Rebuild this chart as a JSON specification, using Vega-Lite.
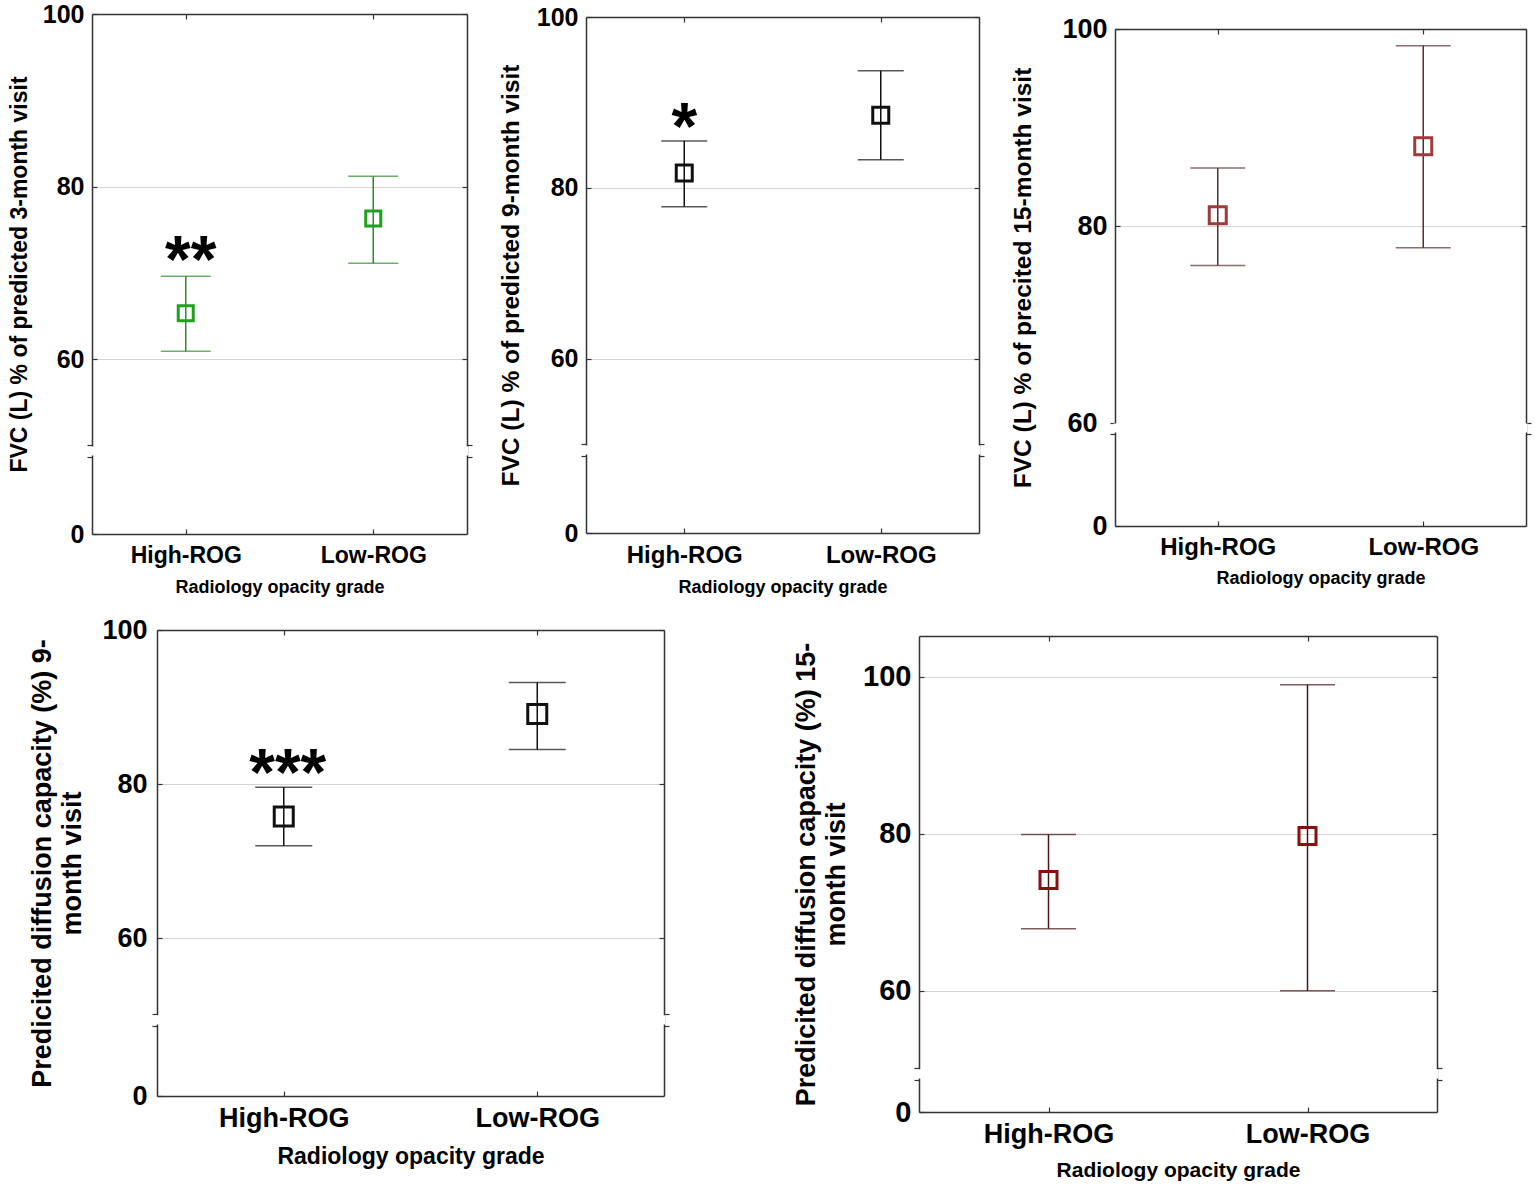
{
  "$schema": "https://vega.github.io/schema/vega-lite/v6.json",
  "padding": {"left": 8, "top": 2, "right": 5, "bottom": 5},
  "columns": 1,
  "align": "none",
  "spacing": 20,
  "config": {
    "view": {"stroke": null},
    "font": "Liberation Sans",
    "axis": {
      "labelFont": "Liberation Sans",
      "labelFontWeight": "bold",
      "labelColor": "#000000",
      "titleFont": "Liberation Sans",
      "titleFontWeight": "bold",
      "titleColor": "#000000",
      "titleLineHeight": 30,
      "domainColor": "#333333",
      "domainWidth": 1.5,
      "tickColor": "#333333",
      "tickWidth": 1.2,
      "gridColor": "#d4d4d4",
      "gridWidth": 1
    }
  },
  "concat": [
    {
      "columns": 3,
      "align": "none",
      "spacing": 25,
      "concat": [
        {
          "width": 375,
          "height": 520,
          "data": {"values": [
            {"grp": "High-ROG", "mean": 65.3, "lo": 60.9, "hi": 69.6, "star": "**"},
            {"grp": "Low-ROG", "mean": 76.3, "lo": 71.1, "hi": 81.2, "star": ""}
          ]},
          "resolve": {"axis": {"x": "independent", "y": "independent"}},
          "layer": [
            {
              "mark": {"type": "rule", "color": "#2f8a2f", "strokeWidth": 1.5},
              "encoding": {
                "x": {"field": "grp", "type": "nominal", "sort": null, "scale": {"type": "point", "padding": 0.5},
                  "axis": {"orient": "bottom", "title": "Radiology opacity grade", "labelAngle": 0, "labelFontSize": 23, "titleFontSize": 18, "tickSize": -5, "labelPadding": 15, "titlePadding": 11}},
                "y": {"field": "lo", "type": "quantitative", "scale": {"domain": [0, 49, 100], "range": [520, 440, 0], "nice": false, "zero": false},
                  "axis": {"orient": "left", "title": "FVC (L) % of predicted 3-month visit", "values": [0, 47.2, 50.05, 60, 80, 100],
                    "labelExpr": "datum.value == 0 || datum.value >= 60 ? datum.label : ''", "labelFontSize": 25, "titleFontSize": 23,
                    "grid": true, "gridColor": {"condition": {"test": "datum.value >= 60", "value": "#d4d4d4"}, "value": "transparent"},
                    "tickSize": {"condition": {"test": "indexof([47.2, 50.05], datum.value) >= 0", "value": 5}, "value": -5},
                    "labelPadding": 13, "titlePadding": 11}},
                "y2": {"field": "hi"}
              }
            },
            {
              "mark": {"type": "tick", "orient": "horizontal", "color": "#2f8a2f", "size": 50, "thickness": 1.5},
              "encoding": {"x": {"field": "grp", "type": "nominal", "sort": null, "axis": null}, "y": {"field": "lo", "type": "quantitative", "axis": null}}
            },
            {
              "mark": {"type": "tick", "orient": "horizontal", "color": "#2f8a2f", "size": 50, "thickness": 1.5},
              "encoding": {"x": {"field": "grp", "type": "nominal", "sort": null, "axis": null}, "y": {"field": "hi", "type": "quantitative", "axis": null}}
            },
            {
              "mark": {"type": "point", "shape": "square", "filled": false, "color": "#1fa01f", "strokeWidth": 3, "size": 225, "opacity": 1},
              "encoding": {"x": {"field": "grp", "type": "nominal", "sort": null, "axis": null}, "y": {"field": "mean", "type": "quantitative", "axis": null}}
            },
            {
              "mark": {"type": "text", "fontSize": 66, "fontWeight": "bold", "baseline": "alphabetic", "dy": 6, "dx": 5, "color": "#000000"},
              "encoding": {"x": {"field": "grp", "type": "nominal", "sort": null, "axis": null}, "y": {"field": "hi", "type": "quantitative", "axis": null}, "text": {"field": "star"}}
            },
            {
              "data": {"values": [{"b0": 49, "b1": 49.7}]},
              "mark": {"type": "rect", "color": "white", "stroke": "white", "strokeWidth": 3},
              "encoding": {"y": {"field": "b0", "type": "quantitative", "axis": null}, "y2": {"field": "b1"}}
            },
            {
              "mark": {"type": "point", "opacity": 0},
              "encoding": {
                "x": {"field": "grp", "type": "nominal", "sort": null, "axis": {"orient": "top", "labels": false, "title": null, "tickSize": -5}},
                "y": {"field": "mean", "type": "quantitative", "axis": {"orient": "right", "labels": false, "title": null, "grid": false, "values": [47.2, 50.05, 60, 80, 100],
                  "tickSize": {"condition": {"test": "indexof([47.2, 50.05], datum.value) >= 0", "value": 5}, "value": -5}}}
              }
            }
          ]
        },
        {
          "width": 393,
          "height": 519,
          "data": {"values": [
            {"grp": "High-ROG", "mean": 81.75, "lo": 77.8, "hi": 85.5, "star": "*"},
            {"grp": "Low-ROG", "mean": 88.5, "lo": 83.3, "hi": 93.7, "star": ""}
          ]},
          "resolve": {"axis": {"x": "independent", "y": "independent"}},
          "layer": [
            {
              "mark": {"type": "rule", "color": "#111111", "strokeWidth": 1.5},
              "encoding": {
                "x": {"field": "grp", "type": "nominal", "sort": null, "scale": {"type": "point", "padding": 0.5},
                  "axis": {"orient": "bottom", "title": "Radiology opacity grade", "labelAngle": 0, "labelFontSize": 24, "titleFontSize": 18, "tickSize": -5, "labelPadding": 15, "titlePadding": 11}},
                "y": {"field": "lo", "type": "quantitative", "scale": {"domain": [0, 49, 100], "range": [519, 439, 3], "nice": false, "zero": false},
                  "axis": {"orient": "left", "title": "FVC (L) % of predicted 9-month visit", "values": [0, 47.2, 50.05, 60, 80, 100],
                    "labelExpr": "datum.value == 0 || datum.value >= 60 ? datum.label : ''", "labelFontSize": 25, "titleFontSize": 24.5,
                    "grid": true, "gridColor": {"condition": {"test": "datum.value >= 60", "value": "#d4d4d4"}, "value": "transparent"},
                    "tickSize": {"condition": {"test": "indexof([47.2, 50.05], datum.value) >= 0", "value": 5}, "value": -5},
                    "labelPadding": 13, "titlePadding": 13}},
                "y2": {"field": "hi"}
              }
            },
            {
              "mark": {"type": "tick", "orient": "horizontal", "color": "#111111", "size": 46, "thickness": 1.5},
              "encoding": {"x": {"field": "grp", "type": "nominal", "sort": null, "axis": null}, "y": {"field": "lo", "type": "quantitative", "axis": null}}
            },
            {
              "mark": {"type": "tick", "orient": "horizontal", "color": "#111111", "size": 46, "thickness": 1.5},
              "encoding": {"x": {"field": "grp", "type": "nominal", "sort": null, "axis": null}, "y": {"field": "hi", "type": "quantitative", "axis": null}}
            },
            {
              "mark": {"type": "point", "shape": "square", "filled": false, "color": "#111111", "strokeWidth": 3, "size": 256, "opacity": 1},
              "encoding": {"x": {"field": "grp", "type": "nominal", "sort": null, "axis": null}, "y": {"field": "mean", "type": "quantitative", "axis": null}}
            },
            {
              "mark": {"type": "text", "fontSize": 66, "fontWeight": "bold", "baseline": "alphabetic", "dy": 8, "color": "#000000"},
              "encoding": {"x": {"field": "grp", "type": "nominal", "sort": null, "axis": null}, "y": {"field": "hi", "type": "quantitative", "axis": null}, "text": {"field": "star"}}
            },
            {
              "data": {"values": [{"b0": 49, "b1": 49.7}]},
              "mark": {"type": "rect", "color": "white", "stroke": "white", "strokeWidth": 3},
              "encoding": {"y": {"field": "b0", "type": "quantitative", "axis": null}, "y2": {"field": "b1"}}
            },
            {
              "mark": {"type": "point", "opacity": 0},
              "encoding": {
                "x": {"field": "grp", "type": "nominal", "sort": null, "axis": {"orient": "top", "labels": false, "title": null, "tickSize": -5, "offset": -3}},
                "y": {"field": "mean", "type": "quantitative", "axis": {"orient": "right", "labels": false, "title": null, "grid": false, "values": [47.2, 50.05, 60, 80, 100],
                  "tickSize": {"condition": {"test": "indexof([47.2, 50.05], datum.value) >= 0", "value": 5}, "value": -5}}}
              }
            }
          ]
        },
        {
          "width": 411,
          "height": 512,
          "data": {"values": [
            {"grp": "High-ROG", "mean": 81.1, "lo": 76.0, "hi": 85.9, "star": ""},
            {"grp": "Low-ROG", "mean": 88.1, "lo": 77.8, "hi": 98.3, "star": ""}
          ]},
          "resolve": {"axis": {"x": "independent", "y": "independent"}},
          "layer": [
            {
              "mark": {"type": "rule", "color": "#5a2d2d", "strokeWidth": 1.5},
              "encoding": {
                "x": {"field": "grp", "type": "nominal", "sort": null, "scale": {"type": "point", "padding": 0.5},
                  "axis": {"orient": "bottom", "title": "Radiology opacity grade", "labelAngle": 0, "labelFontSize": 24, "titleFontSize": 18, "tickSize": -5, "labelPadding": 14, "titlePadding": 10}},
                "y": {"field": "lo", "type": "quantitative", "scale": {"domain": [0, 59.2, 100], "range": [512, 417, 15], "nice": false, "zero": false},
                  "axis": {"orient": "left", "title": "FVC (L) % of precited 15-month visit", "values": [0, 57.3, 60, 80, 100],
                    "labelExpr": "datum.value == 0 || datum.value >= 60 ? datum.label : ''", "labelFontSize": 27, "titleFontSize": 24.5,
                    "grid": true, "gridColor": {"condition": {"test": "datum.value >= 80", "value": "#d4d4d4"}, "value": "transparent"},
                    "tickSize": {"condition": {"test": "indexof([57.3, 60], datum.value) >= 0", "value": 5}, "value": -5},
                    "labelPadding": 13, "titlePadding": 26}},
                "y2": {"field": "hi"}
              }
            },
            {
              "mark": {"type": "tick", "orient": "horizontal", "color": "#5a2d2d", "size": 55, "thickness": 1.5},
              "encoding": {"x": {"field": "grp", "type": "nominal", "sort": null, "axis": null}, "y": {"field": "lo", "type": "quantitative", "axis": null}}
            },
            {
              "mark": {"type": "tick", "orient": "horizontal", "color": "#5a2d2d", "size": 55, "thickness": 1.5},
              "encoding": {"x": {"field": "grp", "type": "nominal", "sort": null, "axis": null}, "y": {"field": "hi", "type": "quantitative", "axis": null}}
            },
            {
              "mark": {"type": "point", "shape": "square", "filled": false, "color": "#a03a3a", "strokeWidth": 3, "size": 289, "opacity": 1},
              "encoding": {"x": {"field": "grp", "type": "nominal", "sort": null, "axis": null}, "y": {"field": "mean", "type": "quantitative", "axis": null}}
            },
            {
              "data": {"values": [{"b0": 59.2, "b1": 59.8}]},
              "mark": {"type": "rect", "color": "white", "stroke": "white", "strokeWidth": 3},
              "encoding": {"y": {"field": "b0", "type": "quantitative", "axis": null}, "y2": {"field": "b1"}}
            },
            {
              "mark": {"type": "point", "opacity": 0},
              "encoding": {
                "x": {"field": "grp", "type": "nominal", "sort": null, "axis": {"orient": "top", "labels": false, "title": null, "tickSize": -5, "offset": -15}},
                "y": {"field": "mean", "type": "quantitative", "axis": {"orient": "right", "labels": false, "title": null, "grid": false, "values": [57.3, 60, 80, 100],
                  "tickSize": {"condition": {"test": "indexof([57.3, 60], datum.value) >= 0", "value": 5}, "value": -5}}}
              }
            }
          ]
        }
      ]
    },
    {
      "columns": 2,
      "align": "none",
      "spacing": 122,
      "concat": [
        {
          "width": 572,
          "height": 466,
          "data": {"values": [
            {"grp": "High-ROG", "mean": 75.8, "lo": 72.0, "hi": 79.6, "star": "***"},
            {"grp": "Low-ROG", "mean": 89.1, "lo": 84.5, "hi": 93.2, "star": ""}
          ]},
          "resolve": {"axis": {"x": "independent", "y": "independent"}},
          "layer": [
            {
              "mark": {"type": "rule", "color": "#111111", "strokeWidth": 1.5},
              "encoding": {
                "x": {"field": "grp", "type": "nominal", "sort": null, "scale": {"type": "point", "padding": 0.5, "range": [65, 572]},
                  "axis": {"orient": "bottom", "title": "Radiology opacity grade", "labelAngle": 0, "labelFontSize": 27, "titleFontSize": 23, "tickSize": -5, "labelPadding": 14, "titlePadding": 14}},
                "y": {"field": "lo", "type": "quantitative", "scale": {"domain": [0, 49, 100], "range": [466, 393, 0], "nice": false, "zero": false},
                  "axis": {"orient": "left", "offset": -65, "title": ["Predicited diffusion capacity (%) 9-", "month visit"], "values": [0, 47, 50.2, 60, 80, 100],
                    "labelExpr": "datum.value == 0 || datum.value >= 60 ? datum.label : ''", "labelFontSize": 27, "titleFontSize": 27,
                    "grid": true, "gridColor": {"condition": {"test": "datum.value >= 60", "value": "#d4d4d4"}, "value": "transparent"},
                    "tickSize": {"condition": {"test": "indexof([47, 50.2], datum.value) >= 0", "value": 5}, "value": -5},
                    "labelPadding": 15, "titlePadding": 15}},
                "y2": {"field": "hi"}
              }
            },
            {
              "mark": {"type": "tick", "orient": "horizontal", "color": "#111111", "size": 57, "thickness": 1.5},
              "encoding": {"x": {"field": "grp", "type": "nominal", "sort": null, "axis": null}, "y": {"field": "lo", "type": "quantitative", "axis": null}}
            },
            {
              "mark": {"type": "tick", "orient": "horizontal", "color": "#111111", "size": 57, "thickness": 1.5},
              "encoding": {"x": {"field": "grp", "type": "nominal", "sort": null, "axis": null}, "y": {"field": "hi", "type": "quantitative", "axis": null}}
            },
            {
              "mark": {"type": "point", "shape": "square", "filled": false, "color": "#111111", "strokeWidth": 3, "size": 361, "opacity": 1},
              "encoding": {"x": {"field": "grp", "type": "nominal", "sort": null, "axis": null}, "y": {"field": "mean", "type": "quantitative", "axis": null}}
            },
            {
              "mark": {"type": "text", "fontSize": 66, "fontWeight": "bold", "baseline": "alphabetic", "dy": 8, "dx": 4, "color": "#000000"},
              "encoding": {"x": {"field": "grp", "type": "nominal", "sort": null, "axis": null}, "y": {"field": "hi", "type": "quantitative", "axis": null}, "text": {"field": "star"}}
            },
            {
              "data": {"values": [{"b0": 49, "b1": 49.8}]},
              "mark": {"type": "rect", "color": "white", "stroke": "white", "strokeWidth": 3},
              "encoding": {"y": {"field": "b0", "type": "quantitative", "axis": null}, "y2": {"field": "b1"}}
            },
            {
              "mark": {"type": "point", "opacity": 0},
              "encoding": {
                "x": {"field": "grp", "type": "nominal", "sort": null, "axis": {"orient": "top", "labels": false, "title": null, "tickSize": -5}},
                "y": {"field": "mean", "type": "quantitative", "axis": {"orient": "right", "labels": false, "title": null, "grid": false, "values": [47, 50.2, 60, 80, 100],
                  "tickSize": {"condition": {"test": "indexof([47, 50.2], datum.value) >= 0", "value": 5}, "value": -5}}}
              }
            }
          ]
        },
        {
          "width": 518,
          "height": 482,
          "data": {"values": [
            {"grp": "High-ROG", "mean": 74.1, "lo": 67.9, "hi": 79.9, "star": ""},
            {"grp": "Low-ROG", "mean": 79.7, "lo": 60.0, "hi": 99.0, "star": ""}
          ]},
          "resolve": {"axis": {"x": "independent", "y": "independent"}},
          "layer": [
            {
              "mark": {"type": "rule", "color": "#4a1515", "strokeWidth": 1.5},
              "encoding": {
                "x": {"field": "grp", "type": "nominal", "sort": null, "scale": {"type": "point", "padding": 0.5},
                  "axis": {"orient": "bottom", "title": "Radiology opacity grade", "labelAngle": 0, "labelFontSize": 27, "titleFontSize": 21, "tickSize": -5, "labelPadding": 14, "titlePadding": 12}},
                "y": {"field": "lo", "type": "quantitative", "scale": {"domain": [0, 49, 105.2], "range": [482, 447, 6], "nice": false, "zero": false},
                  "axis": {"orient": "left", "title": ["Predicited diffusion capacity (%) 15-", "month visit"], "values": [0, 44.8, 50.2, 60, 80, 100],
                    "labelExpr": "datum.value == 0 || datum.value >= 60 ? datum.label : ''", "labelFontSize": 29, "titleFontSize": 27,
                    "grid": true, "gridColor": {"condition": {"test": "datum.value >= 60", "value": "#d4d4d4"}, "value": "transparent"},
                    "tickSize": {"condition": {"test": "indexof([44.8, 50.2], datum.value) >= 0", "value": 5}, "value": -5},
                    "labelPadding": 13, "titlePadding": 12}},
                "y2": {"field": "hi"}
              }
            },
            {
              "mark": {"type": "tick", "orient": "horizontal", "color": "#4a1515", "size": 55, "thickness": 1.5},
              "encoding": {"x": {"field": "grp", "type": "nominal", "sort": null, "axis": null}, "y": {"field": "lo", "type": "quantitative", "axis": null}}
            },
            {
              "mark": {"type": "tick", "orient": "horizontal", "color": "#4a1515", "size": 55, "thickness": 1.5},
              "encoding": {"x": {"field": "grp", "type": "nominal", "sort": null, "axis": null}, "y": {"field": "hi", "type": "quantitative", "axis": null}}
            },
            {
              "mark": {"type": "point", "shape": "square", "filled": false, "color": "#8a0f0f", "strokeWidth": 3, "size": 289, "opacity": 1},
              "encoding": {"x": {"field": "grp", "type": "nominal", "sort": null, "axis": null}, "y": {"field": "mean", "type": "quantitative", "axis": null}}
            },
            {
              "data": {"values": [{"b0": 49, "b1": 49.8}]},
              "mark": {"type": "rect", "color": "white", "stroke": "white", "strokeWidth": 3},
              "encoding": {"y": {"field": "b0", "type": "quantitative", "axis": null}, "y2": {"field": "b1"}}
            },
            {
              "mark": {"type": "point", "opacity": 0},
              "encoding": {
                "x": {"field": "grp", "type": "nominal", "sort": null, "axis": {"orient": "top", "labels": false, "title": null, "tickSize": -5, "offset": -6}},
                "y": {"field": "mean", "type": "quantitative", "axis": {"orient": "right", "labels": false, "title": null, "grid": false, "values": [44.8, 50.2, 60, 80, 100],
                  "tickSize": {"condition": {"test": "indexof([44.8, 50.2], datum.value) >= 0", "value": 5}, "value": -5}}}
              }
            }
          ]
        }
      ]
    }
  ]
}
